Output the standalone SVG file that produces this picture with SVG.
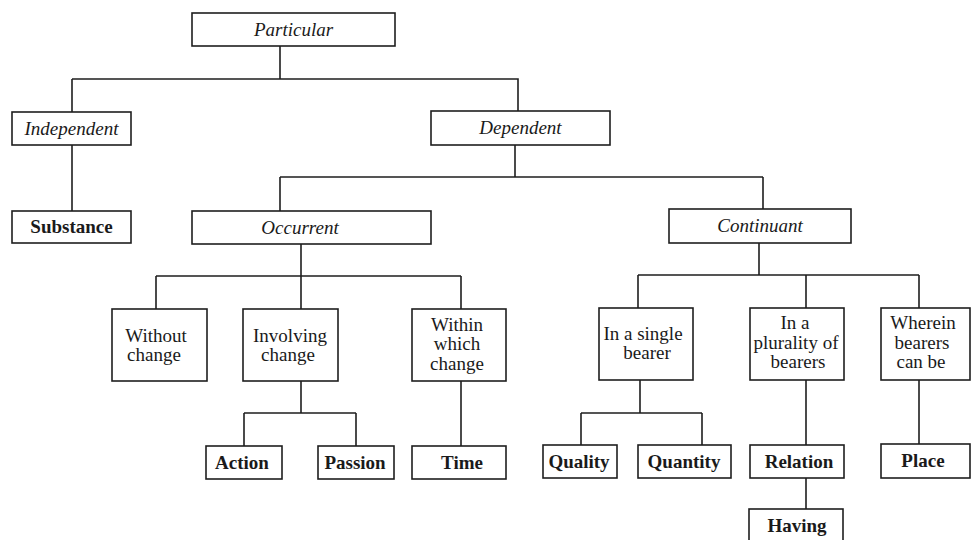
<svg xmlns="http://www.w3.org/2000/svg" width="971" height="540" viewBox="0 0 971 540">
<style>
rect{fill:#fff;stroke:#1e1e1e;stroke-width:1.6}
.c path{fill:none;stroke:#1e1e1e;stroke-width:1.6}
text{font-family:"Liberation Serif","Times New Roman",serif;font-size:19px;fill:#1a1a1a;text-anchor:middle}
.i{font-style:italic}
.b{font-weight:bold}
</style>
<rect x="0" y="0" width="971" height="540" style="fill:#fff;stroke:none"/>
<g class="c" id="connectors">
<path d="M280 46V79M72 79H518V111M72 79V112"/>
<path d="M72 145V211"/>
<path d="M515 145V177M280 177H763M280 177V211M763 177V209"/>
<path d="M301 244V276M156 276H461M156 276V309M301 276V309M461 276V309"/>
<path d="M301 381V413M244 413H356M244 413V446M356 413V446"/>
<path d="M461 381V446"/>
<path d="M759 243V275M638 275H919M638 275V308M806 275V308M919 275V308"/>
<path d="M640 380V413M581 413H702M581 413V445M702 413V445"/>
<path d="M806 380V445M806 478V509"/>
<path d="M919 380V444"/>
</g>
<g id="particular"><rect x="192" y="13" width="203" height="33"/><text class="i" x="293.5" y="36">Particular</text></g>
<g id="independent"><rect x="12" y="112" width="119" height="33"/><text class="i" x="71.5" y="135">Independent</text></g>
<g id="dependent"><rect x="431" y="111" width="179" height="34"/><text class="i" x="520.5" y="134">Dependent</text></g>
<g id="substance"><rect x="12" y="211" width="119" height="32"/><text class="b" x="71.5" y="233">Substance</text></g>
<g id="occurrent"><rect x="192" y="211" width="239" height="33"/><text class="i" x="300" y="234">Occurrent</text></g>
<g id="continuant"><rect x="669" y="209" width="182" height="34"/><text class="i" x="760" y="232">Continuant</text></g>
<g id="without-change"><rect x="112" y="309" width="95" height="72"/><text x="156" y="342">Without</text><text x="154" y="361">change</text></g>
<g id="involving-change"><rect x="243" y="309" width="95" height="72"/><text x="290" y="342">Involving</text><text x="288" y="361">change</text></g>
<g id="within-which-change"><rect x="412" y="309" width="94" height="72"/><text x="457" y="331">Within</text><text x="457" y="350">which</text><text x="457" y="370">change</text></g>
<g id="in-a-single-bearer"><rect x="599" y="308" width="94" height="72"/><text x="643" y="340">In a single</text><text x="647" y="359">bearer</text></g>
<g id="in-a-plurality"><rect x="750" y="308" width="94" height="72"/><text x="795" y="329">In a</text><text x="796" y="349">plurality of</text><text x="798" y="368">bearers</text></g>
<g id="wherein-bearers"><rect x="881" y="308" width="89" height="72"/><text x="923" y="329">Wherein</text><text x="922" y="349">bearers</text><text x="921" y="368">can be</text></g>
<g id="action"><rect x="206" y="446" width="76" height="33"/><text class="b" x="242" y="469">Action</text></g>
<g id="passion"><rect x="318" y="446" width="76" height="33"/><text class="b" x="355" y="469">Passion</text></g>
<g id="time"><rect x="412" y="446" width="94" height="33"/><text class="b" x="462" y="469">Time</text></g>
<g id="quality"><rect x="543" y="445" width="74" height="33"/><text class="b" x="579" y="468">Quality</text></g>
<g id="quantity"><rect x="638" y="445" width="93" height="33"/><text class="b" x="684" y="468">Quantity</text></g>
<g id="relation"><rect x="750" y="445" width="94" height="33"/><text class="b" x="799" y="468">Relation</text></g>
<g id="place"><rect x="881" y="444" width="89" height="34"/><text class="b" x="923" y="467">Place</text></g>
<g id="having"><rect x="749" y="509" width="94" height="40"/><text class="b" x="797" y="532">Having</text></g>
</svg>
